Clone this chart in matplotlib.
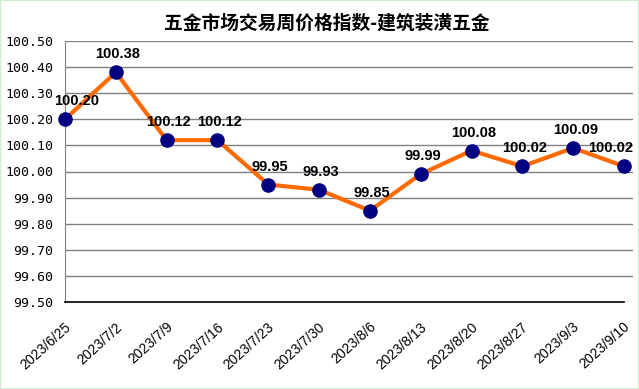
import matplotlib
matplotlib.use("Agg")
import matplotlib.pyplot as plt
from matplotlib.transforms import ScaledTranslation
from matplotlib.patches import Rectangle

dates = ["2023/6/25", "2023/7/2", "2023/7/9", "2023/7/16", "2023/7/23", "2023/7/30",
         "2023/8/6", "2023/8/13", "2023/8/20", "2023/8/27", "2023/9/3", "2023/9/10"]
values = [100.20, 100.38, 100.12, 100.12, 99.95, 99.93, 99.85, 99.99, 100.08, 100.02, 100.09, 100.02]
yticks = [99.50, 99.60, 99.70, 99.80, 99.90, 100.00, 100.10, 100.20, 100.30, 100.40, 100.50]
title = "五金市场交易周价格指数-建筑装潢五金"

fig = plt.figure(figsize=(6.39, 3.89), dpi=100)
fig.patch.set_facecolor("white")
ax = fig.add_axes([65 / 639, 1 - 302 / 389, 568 / 639, 261 / 389])

x = list(range(len(dates)))
ax.plot(x, values, color="#FF6A00", lw=3, zorder=3, clip_on=False)
ax.scatter(x, values, s=90, color="#000080", zorder=4, clip_on=False)

ax.set_ylim(99.50, 100.50)
ax.set_xlim(0, (len(dates) - 1) * 568 / 559)
ax.set_yticks(yticks)
ax.set_yticklabels([f"{v:.2f}" for v in yticks], fontsize=9.5, family=["DejaVu Sans Mono"])
ax.set_xticks(x)
ax.set_xticklabels(dates, rotation=42, ha="right", va="center", fontsize=10,
                   rotation_mode="anchor", family=["Liberation Sans"])
ax.tick_params(axis="y", length=0, pad=8.6)
ax.tick_params(axis="x", length=0, pad=0)
off = ScaledTranslation(4 / 100, -23 / 100, fig.dpi_scale_trans)
for lab in ax.get_xticklabels():
    lab.set_transform(lab.get_transform() + off)
ax.grid(axis="y", color="#808080", lw=1)
ax.set_axisbelow(True)
for side in ["top", "right"]:
    ax.spines[side].set_visible(False)
ax.spines["left"].set_color("#808080")
ax.spines["bottom"].set_color("black")
ax.spines["bottom"].set_linewidth(1.2)
ax.spines["bottom"].set_bounds(0, len(dates) - 1)

for i, v in enumerate(values):
    dx = 2
    if i == 0:
        dx = 12
    elif i == len(values) - 1:
        dx = -13
    ax.annotate(f"{v:.2f}", (i, v), xytext=(dx, 18), textcoords="offset pixels",
                ha="center", va="center", fontsize=10.5, fontweight="bold",
                family=["Liberation Sans"], zorder=5, annotation_clip=False)

fig.text(0.511, 1 - 23 / 389, title, ha="center", va="center", fontsize=13.5, fontweight="bold",
         family=["Noto Sans CJK SC", "DejaVu Sans"])

fig.patches.append(Rectangle((0, 0), 1, 1, transform=fig.transFigure, fill=False,
                             edgecolor="#CDEBCD", lw=1.5))

fig.savefig("out.png", dpi=100)
